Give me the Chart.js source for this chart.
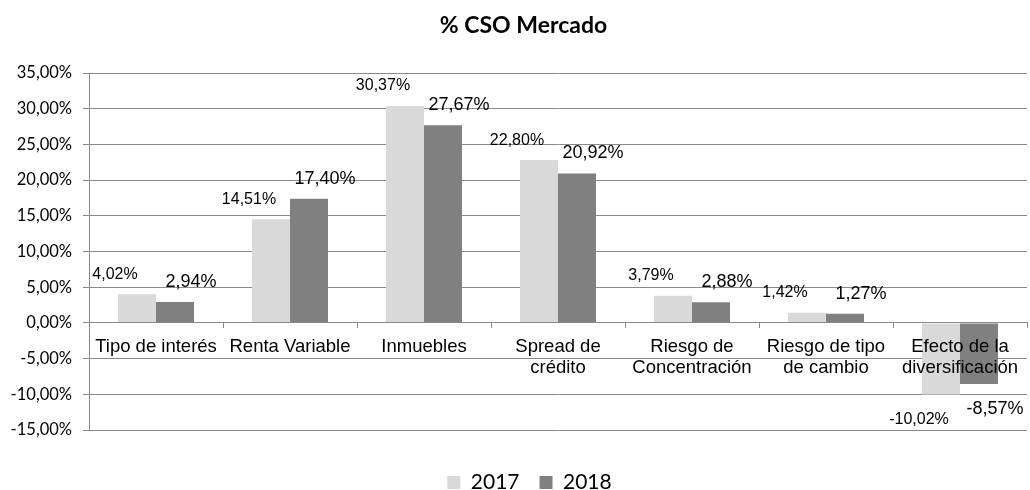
<!DOCTYPE html>
<html>
<head>
<meta charset="utf-8">
<script src="https://cdn.jsdelivr.net/npm/chart.js@4/dist/chart.umd.min.js"></script>
<style>
  html, body { margin: 0; padding: 0; background: #fff; }
  #wrap { width: 1030px; height: 490px; }
</style>
</head>
<body>
<div id="wrap"><canvas id="cso"></canvas></div>
<script>
// datos del gráfico
const categories = [
    "Tipo de interés",
    "Renta Variable",
    "Inmuebles",
    ["Spread de", "crédito"],
    ["Riesgo de", "Concentración"],
    ["Riesgo de tipo", "de cambio"],
    ["Efecto de la", "diversificación"]
];
const values2017 = [4.02, 14.51, 30.37, 22.80, 3.79, 1.42, -10.02];
const values2018 = [2.94, 17.40, 27.67, 20.92, 2.88, 1.27, -8.57];
const yTicks = [-15, -10, -5, 0, 5, 10, 15, 20, 25, 30, 35];

const gridGray = "#8a8a8a";
const pct = v => v.toFixed(2).replace(".", ",") + "%";

// etiquetas de valor encima / debajo de cada barra
const valueLabels = {
    id: "valueLabels",
    afterLayout(chart) {
        // título y leyenda algo a la derecha, como en el original
        chart.titleBlock.left += 10; chart.titleBlock.right += 10;
        chart.legend.left += 16; chart.legend.right += 16;
    },
    afterDatasetsDraw(chart) {
        const ctx = chart.ctx;
        ctx.save();
        ctx.fillStyle = "#000";
        ctx.textAlign = "center";
        ctx.textBaseline = "middle";
        chart.data.datasets.forEach((ds, di) => {
            const meta = chart.getDatasetMeta(di);
            ctx.font = ds.labelFont;
            meta.data.forEach((bar, i) => {
                const v = ds.data[i];
                const y = v >= 0 ? bar.y - 20 : bar.y + 25;
                ctx.fillText(pct(v), bar.x + ds.labelDx, y);
            });
        });
        ctx.restore();
    }
};

new Chart(document.getElementById("cso"), {
    type: "bar",
    data: {
        labels: categories,
        datasets: [{
            label: "2017",
            data: values2017,
            backgroundColor: "#d9d9d9",
            labelDx: -22,
            labelFont: "16px 'Liberation Sans'"
        }, {
            label: "2018",
            data: values2018,
            backgroundColor: "#808080",
            labelDx: 16,
            labelFont: "18px 'Liberation Sans'"
        }]
    },
    options: {
        responsive: true,
        maintainAspectRatio: false,
        animation: false,
        layout: { padding: { left: 0, right: 3, top: 0, bottom: -13 } },
        datasets: {
            bar: { categoryPercentage: 0.567, barPercentage: 1 }
        },
        plugins: {
            title: {
                display: true,
                text: "% CSO Mercado",
                color: "#000",
                font: { family: "Lato", size: 23, weight: "bold" },
                padding: { top: 12, bottom: 33.4 }
            },
            subtitle: {
                display: true,
                text: "",
                position: "bottom",
                weight: 500,
                font: { size: 10 },
                padding: { top: 0, bottom: 10 }
            },
            legend: {
                position: "bottom",
                labels: {
                    color: "#000",
                    font: { family: "Lato", size: 21 },
                    boxWidth: 13,
                    boxHeight: 13,
                    padding: 20
                }
            },
            tooltip: { enabled: false }
        },
        scales: {
            x: {
                position: { y: 0 },
                grid: {
                    drawOnChartArea: false,
                    drawTicks: true,
                    tickLength: 5,
                    color: gridGray,
                    offset: true,
                    z: 1
                },
                border: { color: gridGray, z: 1 },
                ticks: {
                    color: "#000",
                    font: { family: "Liberation Sans", size: 18.5, lineHeight: 1.15 },
                    padding: 8,
                    autoSkip: false,
                    maxRotation: 0,
                    z: 1
                }
            },
            y: {
                min: -15,
                max: 35,
                afterFit(scale) { scale.width = 89; },
                afterBuildTicks(scale) { scale.ticks = yTicks.map(v => ({ value: v })); },
                grid: { color: gridGray, tickLength: 6 },
                border: { color: gridGray },
                ticks: {
                    color: "#000",
                    font: { family: "Lato", size: 16.5 },
                    padding: 11,
                    callback: v => pct(v)
                }
            }
        }
    },
    plugins: [valueLabels]
});
</script>
</body>
</html>
